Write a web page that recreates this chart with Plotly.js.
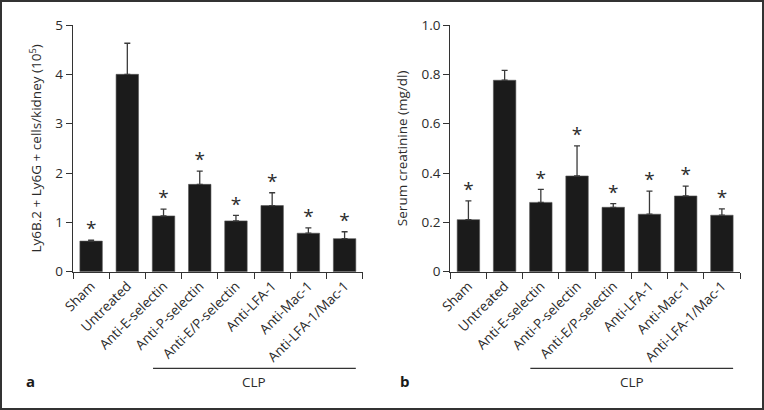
<!DOCTYPE html>
<html>
<head>
<meta charset="utf-8">
<script src="https://cdn.plot.ly/plotly-3.0.1.min.js"></script>
<style>
  html, body { margin: 0; padding: 0; background: #fff; }
  #chart { width: 764px; height: 410px; }
</style>
</head>
<body>
<div id="chart"></div>
<script>
// ---- Data ----
const categories = ["Sham", "Untreated", "Anti-E-selectin", "Anti-P-selectin", "Anti-E/P-selectin", "Anti-LFA-1", "Anti-Mac-1", "Anti-LFA-1/Mac-1"];

// Panel a: Ly6B.2+ Ly6G+ cells/kidney (10^5)
const cellsMean = [0.62, 4.00, 1.13, 1.77, 1.03, 1.34, 0.78, 0.67];
const cellsSEM  = [0.02, 0.63, 0.14, 0.27, 0.11, 0.26, 0.11, 0.14];
const cellsSig  = [true, false, true, true, true, true, true, true];

// Panel b: Serum creatinine (mg/dl)
const creatMean = [0.211, 0.776, 0.281, 0.388, 0.261, 0.233, 0.307, 0.229];
const creatSEM  = [0.076, 0.040, 0.053, 0.122, 0.015, 0.094, 0.040, 0.026];
const creatSig  = [true, false, true, true, true, true, true, true];

const groupLabel = "CLP";
const clpSpan = [1.71, 7.31]; // category-axis extent of the CLP bracket

// ---- Styles ----
const FONT = "Open Sans, Noto Sans, DejaVu Sans, sans-serif";
const barColor = "#1b1b1b";
const errColor = "#3a3a3a";
const textColor = "#2b2b2b";

function barTrace(means, errs, xa, ya) {
  return {
    type: "bar", x: categories, y: means, xaxis: xa, yaxis: ya,
    width: 0.62,
    marker: { color: barColor, line: { color: "#555", width: 0.6 } },
    error_y: { type: "data", symmetric: false, array: errs, arrayminus: errs.map(() => 0),
               color: errColor, thickness: 1.3, width: 3 },
    hoverinfo: "skip", showlegend: false
  };
}
function starTrace(means, errs, sig, xa, ya) {
  const idx = categories.map((_, i) => i).filter(i => sig[i]);
  return {
    type: "scatter", mode: "text",
    x: idx.map(i => categories[i]), y: idx.map(i => means[i] + errs[i]), text: idx.map(() => "*"),
    xaxis: xa, yaxis: ya, textposition: "top center",
    textfont: { family: FONT, size: 19, color: textColor },
    cliponaxis: false, hoverinfo: "skip", showlegend: false
  };
}

const data = [
  barTrace(cellsMean, cellsSEM, "x", "y"),
  starTrace(cellsMean, cellsSEM, cellsSig, "x", "y"),
  barTrace(creatMean, creatSEM, "x2", "y2"),
  starTrace(creatMean, creatSEM, creatSig, "x2", "y2")
];

const yDomain = [1 - 271.7 / 410, 1 - 25 / 410];

function xAxis(domain, anchor) {
  return {
    domain: domain, anchor: anchor, type: "category", range: [-0.5, 7.5],
    showline: true, linecolor: "#333", linewidth: 1.2,
    ticks: "outside", tickson: "boundaries", ticklen: 6, tickcolor: "#333", tickwidth: 1,
    tickangle: -45, tickfont: { family: FONT, size: 13.5, color: textColor },
    showgrid: false, zeroline: false, fixedrange: true
  };
}
function yAxis(range, anchor, title, tickvals, ticktext) {
  return {
    domain: yDomain, anchor: anchor, range: range,
    tickvals: tickvals, ticktext: ticktext,
    showline: true, linecolor: "#333", linewidth: 1.2,
    ticks: "outside", ticklen: 6, tickcolor: "#333", tickwidth: 1,
    tickfont: { family: FONT, size: 13.5, color: textColor },
    showgrid: false, zeroline: false, fixedrange: true,
    title: { text: title, font: { family: FONT, size: 13.5, color: textColor }, standoff: 10 }
  };
}

const layout = {
  width: 764, height: 410,
  margin: { l: 0, r: 0, t: 0, b: 0 },
  paper_bgcolor: "#fff", plot_bgcolor: "#fff",
  font: { family: FONT, color: textColor },
  xaxis: xAxis([73 / 764, 362.7 / 764], "y"),
  yaxis: yAxis([0, 5], "x", "Ly6B.2 + Ly6G + cells/kidney (10<sup>5</sup>)",
               [0, 1, 2, 3, 4, 5], ["0", "1", "2", "3", "4", "5"]),
  xaxis2: xAxis([450.3 / 764, 740 / 764], "y2"),
  yaxis2: yAxis([0, 1], "x2", "Serum creatinine (mg/dl)",
                [0, 0.2, 0.4, 0.6, 0.8, 1.0], ["0", "0.2", "0.4", "0.6", "0.8", "1.0"]),
  shapes: [
    { type: "line", xref: "x", yref: "paper", x0: clpSpan[0], x1: clpSpan[1], y0: 1 - 368.3 / 410, y1: 1 - 368.3 / 410,
      line: { color: "#333", width: 1.2 } },
    { type: "line", xref: "x2", yref: "paper", x0: clpSpan[0], x1: clpSpan[1], y0: 1 - 368.3 / 410, y1: 1 - 368.3 / 410,
      line: { color: "#333", width: 1.2 } },
    { type: "rect", xref: "paper", yref: "paper", x0: 1 / 764, x1: 763 / 764, y0: 1 / 410, y1: 409 / 410,
      line: { color: "#333", width: 2 } }
  ],
  annotations: [
    { xref: "x", yref: "paper", x: (clpSpan[0] + clpSpan[1]) / 2, y: 1 - 381.7 / 410, text: groupLabel,
      showarrow: false, font: { family: FONT, size: 13.5, color: textColor }, yanchor: "middle" },
    { xref: "x2", yref: "paper", x: (clpSpan[0] + clpSpan[1]) / 2, y: 1 - 381.7 / 410, text: groupLabel,
      showarrow: false, font: { family: FONT, size: 13.5, color: textColor }, yanchor: "middle" },
    { xref: "paper", yref: "paper", x: 30.5 / 764, y: 1 - 381 / 410, text: "<b>a</b>",
      showarrow: false, font: { family: FONT, size: 15, color: "#1a1a1a" }, xanchor: "center", yanchor: "middle" },
    { xref: "paper", yref: "paper", x: 404.7 / 764, y: 1 - 381 / 410, text: "<b>b</b>",
      showarrow: false, font: { family: FONT, size: 15, color: "#1a1a1a" }, xanchor: "center", yanchor: "middle" }
  ]
};

Plotly.newPlot("chart", data, layout, { displayModeBar: false, staticPlot: true });
</script>
</body>
</html>
